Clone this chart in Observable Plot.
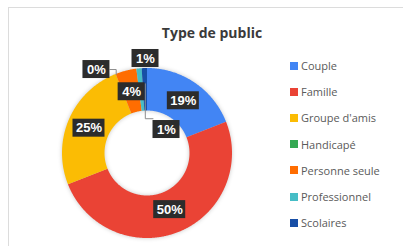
<!DOCTYPE html>
<html><head><meta charset="utf-8">
<script src="https://cdn.jsdelivr.net/npm/d3@7"></script>
<script src="https://cdn.jsdelivr.net/npm/@observablehq/plot@0.6"></script>
<style>
html,body{margin:0;padding:0;background:#fff;}
#wrap{position:relative;width:403px;height:246px;overflow:hidden;font-family:"Open Sans",sans-serif;}
#card{position:absolute;left:8px;top:7px;width:420px;height:260px;border:1px solid #dcdcdc;box-sizing:border-box;}
#title{position:absolute;left:112px;width:200px;top:23px;text-align:center;font-weight:bold;font-size:14px;color:#3a3a3a;line-height:20px;}
#chart{position:absolute;left:0;top:0;}
.leg{position:absolute;left:290px;height:14px;display:flex;align-items:center;font-size:11px;color:#5a5a5a;white-space:nowrap;}
.leg .sw{width:8px;height:8px;margin-right:3px;display:inline-block;}
g[aria-label="area"]{filter:drop-shadow(0 0 2px rgba(0,0,0,0.22));}
</style></head><body>
<div id="wrap"><div id="card"></div><div id="title"></div><div id="chart"></div><div id="legend"></div></div>
<script>
// ---- data ----
const chartTitle = "Type de public";
const categories = ["Couple", "Famille", "Groupe d'amis", "Handicapé", "Personne seule", "Professionnel", "Scolaires"];
const values = [19, 50, 25, 0, 4, 1, 1];
const valueLabels = ["19%", "50%", "25%", "0%", "4%", "1%", "1%"];
const colors = ["#4285f4", "#ea4335", "#fbbc04", "#34a853", "#ff6d01", "#46bdc6", "#174ea6"];

// ---- layout ----
const R_PX = 85;          // outer radius in pixels (1 data unit)
const INNER = 0.5;        // inner radius ratio
const BOX_H = 18;
// labels moved away from the centroid (angle in deg clockwise from top, radius in outer-radius units)
const labelPlacement = {
  "Handicapé": {angle: -31.3, r: 1.156, leader: 1.0, leaderY: 0},
  "Professionnel": {angle: -1.2, r: 1.118},
  "Scolaires": {angle: 38.4, r: 0.36, leader: 0.82, leaderY: 0.6}
};

const total = d3.sum(values);
const rad = a => a * Math.PI / 180;
let acc = 0;
const slices = categories.map((c, i) => {
  const a0 = acc / total * 360;
  acc += values[i];
  const a1 = acc / total * 360;
  return {category: c, value: values[i], label: valueLabels[i], a0, a1, mid: (a0 + a1) / 2};
});

// ring geometry
const ringPts = [];
for (const s of slices) {
  if (s.value <= 0) continue;
  const n = Math.max(2, Math.ceil((s.a1 - s.a0) / 0.5));
  for (let k = 0; k <= n; k++) {
    const a = rad(s.a0 + (s.a1 - s.a0) * k / n);
    ringPts.push({category: s.category,
      ox: Math.sin(a), oy: Math.cos(a),
      ix: INNER * Math.sin(a), iy: INNER * Math.cos(a)});
  }
}

// labels
const labelData = slices.map(s => {
  const p = labelPlacement[s.category];
  const ang = p ? p.angle : s.mid;
  const r = p ? p.r : (1 + INNER) / 2 + (s.category === "Famille" ? -0.04 : 0);
  const w = (s.label.length >= 3 ? 32 : 27) / R_PX;
  return {...s, lx: r * Math.sin(rad(ang)), ly: r * Math.cos(rad(ang)), w, h: BOX_H / R_PX};
});

// leader lines
const leaderPts = [];
for (const d of labelData) {
  const p = labelPlacement[d.category];
  if (!p || p.leader == null) continue;
  const ax = p.leader * Math.sin(rad(d.mid)), ay = p.leader * Math.cos(rad(d.mid));
  const side = Math.sign(ax - d.lx);
  const yy = d.ly + p.leaderY * d.h;
  leaderPts.push({category: d.category, x: d.lx + side * d.w / 2, y: yy});
  leaderPts.push({category: d.category, x: ax, y: yy});
  leaderPts.push({category: d.category, x: ax, y: ay});
}

const chart = Plot.plot({
  width: 403, height: 246,
  marginLeft: 62, marginRight: 171, marginTop: 68, marginBottom: 8,
  x: {domain: [-1, 1], axis: null},
  y: {domain: [-1, 1], axis: null},
  color: {domain: categories, range: colors},
  style: {background: "transparent", overflow: "visible"},
  marks: [
    Plot.area(ringPts, {x1: "ix", y1: "iy", x2: "ox", y2: "oy", z: "category", fill: "category"}),
    Plot.line(leaderPts, {x: "x", y: "y", z: "category", stroke: "#8c8c8c", strokeWidth: 1}),
    Plot.rect(labelData, {x1: d => d.lx - d.w / 2, x2: d => d.lx + d.w / 2,
      y1: d => d.ly - d.h / 2, y2: d => d.ly + d.h / 2, fill: "#2c2c2c"}),
    Plot.text(labelData, {x: "lx", y: "ly", text: "label", fill: "white",
      fontWeight: "bold", fontSize: 13, fontFamily: "Liberation Sans, Arial, sans-serif"})
  ]
});
document.getElementById("chart").appendChild(chart);
document.getElementById("title").textContent = chartTitle;

const legend = document.getElementById("legend");
categories.forEach((c, i) => {
  const item = document.createElement("div");
  item.className = "leg";
  item.style.top = (66 + i * 26.2 - 7.5) + "px";
  const sw = document.createElement("span");
  sw.className = "sw";
  sw.style.background = colors[i];
  item.appendChild(sw);
  item.appendChild(document.createTextNode(c));
  legend.appendChild(item);
});
</script>
</body></html>
